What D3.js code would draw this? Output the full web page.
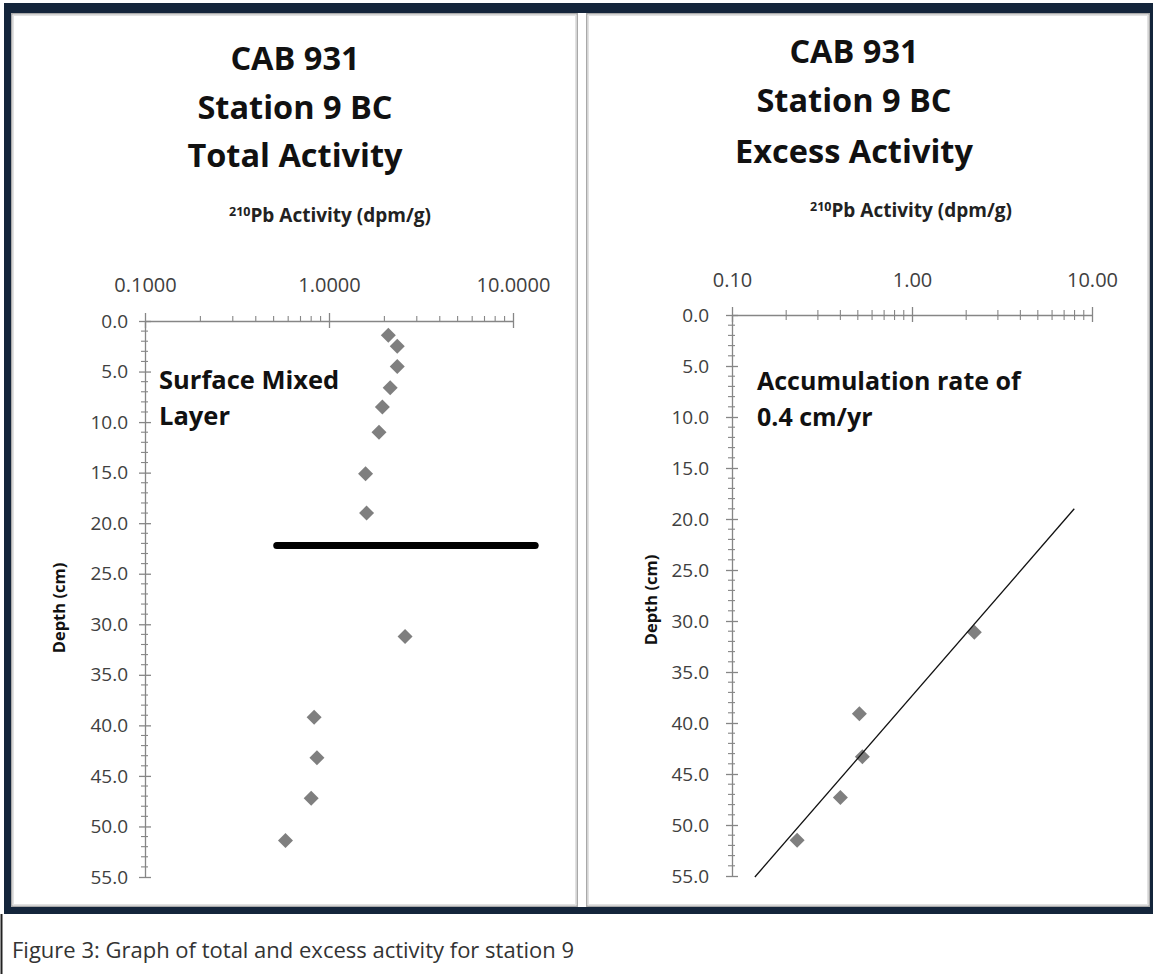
<!DOCTYPE html>
<html>
<head>
<meta charset="utf-8">
<script src="https://cdn.jsdelivr.net/npm/d3@7"></script>
<style>
  html, body { margin: 0; padding: 0; background: #fff; }
  svg { display: block; font-family: "Open Sans", sans-serif; }
</style>
</head>
<body>
<svg id="chart" width="1153" height="974"></svg>
<script>
// ---------- data ----------
const titleLines = ["CAB 931", "Station 9 BC"];
const leftTitle = "Total Activity";
const rightTitle = "Excess Activity";
const axisTitleSup = "210";
const axisTitleMain = "Pb Activity (dpm/g)";
const depthLabel = "Depth (cm)";
const caption = "Figure 3: Graph of total and excess activity for station 9";

const leftXTicks = [0.1, 1, 10];
const leftXTickLabels = ["0.1000", "1.0000", "10.0000"];
const rightXTicks = [0.1, 1, 10];
const rightXTickLabels = ["0.10", "1.00", "10.00"];
const depthTicks = [0, 5, 10, 15, 20, 25, 30, 35, 40, 45, 50, 55];

// total activity (left)
const totalDepth = [1.4, 2.5, 4.5, 6.6, 8.5, 11.0, 15.1, 19.0, 31.2, 39.2, 43.2, 47.2, 51.4];
const totalAct   = [2.10, 2.35, 2.35, 2.15, 1.95, 1.87, 1.58, 1.60, 2.59, 0.83, 0.86, 0.80, 0.58];

// excess activity (right)
const excessDepth = [31.1, 39.1, 43.3, 47.3, 51.5];
const excessAct   = [2.22, 0.51, 0.53, 0.40, 0.23];

// fitted trend line (right), end points
const trendAct = [0.134, 7.97];
const trendDepth = [55.1, 19.0];

// mixed layer boundary (left)
const boundaryDepth = 22.2;
const boundaryAct = [0.52, 13.2];

const leftNote = ["Surface Mixed", "Layer"];
const rightNote = ["Accumulation rate of", "0.4 cm/yr"];

// ---------- drawing ----------
const svg = d3.select("#chart");
const NAVY = "#14253b";
const AXIS = "#868686";
const LABEL = "#404040";
const MARK = "#7f7f7f";

// outer frame
svg.append("rect").attr("x", 4).attr("y", 3).attr("width", 1149).attr("height", 911).attr("fill", NAVY);
// panels
function panel(x, y, w, h) {
  svg.append("rect").attr("x", x).attr("y", y).attr("width", w).attr("height", h).attr("fill", "#fff");
  svg.append("rect").attr("x", x + 0.75).attr("y", y + 0.75).attr("width", w - 1.5).attr("height", h - 1.5)
    .attr("fill", "none").attr("stroke", "#a9a9a9").attr("stroke-width", 1.5);
  svg.append("rect").attr("x", x + 2.5).attr("y", y + 2.5).attr("width", w - 5).attr("height", h - 5)
    .attr("fill", "none").attr("stroke", "#e2e2e2").attr("stroke-width", 1);
}
svg.append("rect").attr("x", 11).attr("y", 13).attr("width", 1139).attr("height", 894).attr("fill", "#fff");
panel(11, 13, 567, 894);
panel(586, 13, 564, 894);
// page edge below frame
svg.append("line").attr("x1", 1.5).attr("x2", 1.5).attr("y1", 914).attr("y2", 974).attr("stroke", "#222").attr("stroke-width", 2);

function drawChart(opt) {
  const g = svg.append("g");
  const x = d3.scaleLog().domain([0.1, 10]).range(opt.xRange);
  const y = d3.scaleLinear().domain([0, 55]).range(opt.yRange);

  // titles
  const titles = titleLines.concat([opt.title]);
  titles.forEach((t, i) => {
    g.append("text").attr("x", opt.titleX).attr("y", opt.titleY[i])
      .attr("text-anchor", "middle").attr("font-size", 32.5).attr("font-weight", 700)
      .attr("fill", "#111").text(t);
  });
  // axis title
  const at = g.append("text").attr("x", opt.axisTitleX).attr("y", opt.axisTitleY)
    .attr("text-anchor", "middle").attr("font-weight", 700).attr("fill", "#222").attr("font-size", 19);
  at.append("tspan").attr("font-size", 12.5).attr("dy", -6).text(axisTitleSup);
  at.append("tspan").attr("dy", 6).text(axisTitleMain);

  // y axis
  const yAxis = d3.axisLeft(y).tickValues(depthTicks).tickFormat(d3.format(".1f"))
    .tickSizeInner(6).tickSizeOuter(0).tickPadding(opt.yPad);
  const ya = g.append("g").attr("transform", `translate(${opt.xRange[0]},0)`).call(yAxis);
  ya.select(".domain").attr("stroke", AXIS).attr("stroke-width", 1.3);
  ya.selectAll(".tick line").attr("x1", -6).attr("x2", 6).attr("stroke", AXIS).attr("stroke-width", 1.3);
  ya.selectAll(".tick text").attr("fill", LABEL).attr("font-size", 19).attr("font-family", "Open Sans");
  // minor depth ticks
  const minorDepth = d3.range(0, 56, 1).filter(d => d % 5 !== 0);
  g.selectAll(".ymin").data(minorDepth).join("line")
    .attr("x1", opt.xRange[0] - 4).attr("x2", opt.xRange[0] + 3)
    .attr("y1", d => y(d)).attr("y2", d => y(d))
    .attr("stroke", AXIS).attr("stroke-width", 1.1);

  // x axis (top)
  const xAxis = d3.axisTop(x).tickValues(opt.xTicks)
    .tickFormat((d, i) => opt.xTickLabels[i])
    .tickSizeInner(8).tickSizeOuter(0).tickPadding(opt.xPad);
  const xa = g.append("g").attr("transform", `translate(0,${opt.yRange[0]})`).call(xAxis);
  xa.select(".domain").attr("stroke", AXIS).attr("stroke-width", 1.3);
  xa.selectAll(".tick line").attr("y1", 7).attr("y2", -8).attr("stroke", AXIS).attr("stroke-width", 1.3);
  xa.selectAll(".tick text").attr("fill", LABEL).attr("font-size", 20).attr("font-family", "Open Sans");
  // minor log ticks
  const minorX = [];
  [0.1, 1].forEach(dec => { for (let k = 2; k <= 9; k++) minorX.push(dec * k); });
  g.selectAll(".xmin").data(minorX).join("line")
    .attr("x1", d => x(d)).attr("x2", d => x(d))
    .attr("y1", opt.yRange[0] - 5).attr("y2", opt.yRange[0] + opt.minorDown)
    .attr("stroke", AXIS).attr("stroke-width", 1.1);

  // depth label
  g.append("text").attr("transform", `translate(${opt.depthX},${opt.depthY}) rotate(-90)`)
    .attr("text-anchor", "middle").attr("font-size", 16.5).attr("font-weight", 700).attr("fill", "#111")
    .text(depthLabel);

  // notes
  opt.note.forEach((t, i) => {
    g.append("text").attr("x", opt.noteX).attr("y", opt.noteY[i])
      .attr("font-size", opt.noteSize).attr("font-weight", 700).attr("fill", "#111").text(t);
  });

  return { g, x, y };
}

// left chart
const L = drawChart({
  xRange: [145, 513], yRange: [321, 877],
  title: leftTitle, titleX: 295, titleY: [70, 119, 167],
  axisTitleX: 330, axisTitleY: 222,
  xTicks: leftXTicks, xTickLabels: leftXTickLabels, xPad: 21, yPad: 11, minorDown: 0,
  depthX: 65, depthY: 608,
  note: leftNote, noteX: 159, noteY: [389, 425], noteSize: 25.5
});
// boundary bar
L.g.append("line")
  .attr("x1", L.x(boundaryAct[0])).attr("x2", L.x(boundaryAct[1]))
  .attr("y1", L.y(boundaryDepth)).attr("y2", L.y(boundaryDepth))
  .attr("stroke", "#000").attr("stroke-width", 7).attr("stroke-linecap", "round");
// diamonds
const diamond = (cx, cy, r) => `M${cx},${cy - r}L${cx + r},${cy}L${cx},${cy + r}L${cx - r},${cy}Z`;
L.g.selectAll(".pt").data(totalAct.map((a, i) => [a, totalDepth[i]])).join("path")
  .attr("d", d => diamond(L.x(d[0]), L.y(d[1]), 7.5)).attr("fill", MARK);

// right chart
const R = drawChart({
  xRange: [732, 1092], yRange: [315, 876],
  title: rightTitle, titleX: 854, titleY: [63, 112, 163],
  axisTitleX: 911, axisTitleY: 217,
  xTicks: rightXTicks, xTickLabels: rightXTickLabels, xPad: 20, yPad: 17, minorDown: 5,
  depthX: 657, depthY: 600,
  note: rightNote, noteX: 757, noteY: [390, 426], noteSize: 25
});
R.g.selectAll(".pt").data(excessAct.map((a, i) => [a, excessDepth[i]])).join("path")
  .attr("d", d => diamond(R.x(d[0]), R.y(d[1]), 7.5)).attr("fill", MARK);
R.g.append("path")
  .datum(trendAct.map((a, i) => [a, trendDepth[i]]))
  .attr("d", d3.line().x(d => R.x(d[0])).y(d => R.y(d[1])))
  .attr("fill", "none").attr("stroke", "#111").attr("stroke-width", 1.3);

// caption
svg.append("text").attr("x", 12).attr("y", 958).attr("font-size", 22).attr("fill", "#333")
  .text(caption);
</script>
</body>
</html>
